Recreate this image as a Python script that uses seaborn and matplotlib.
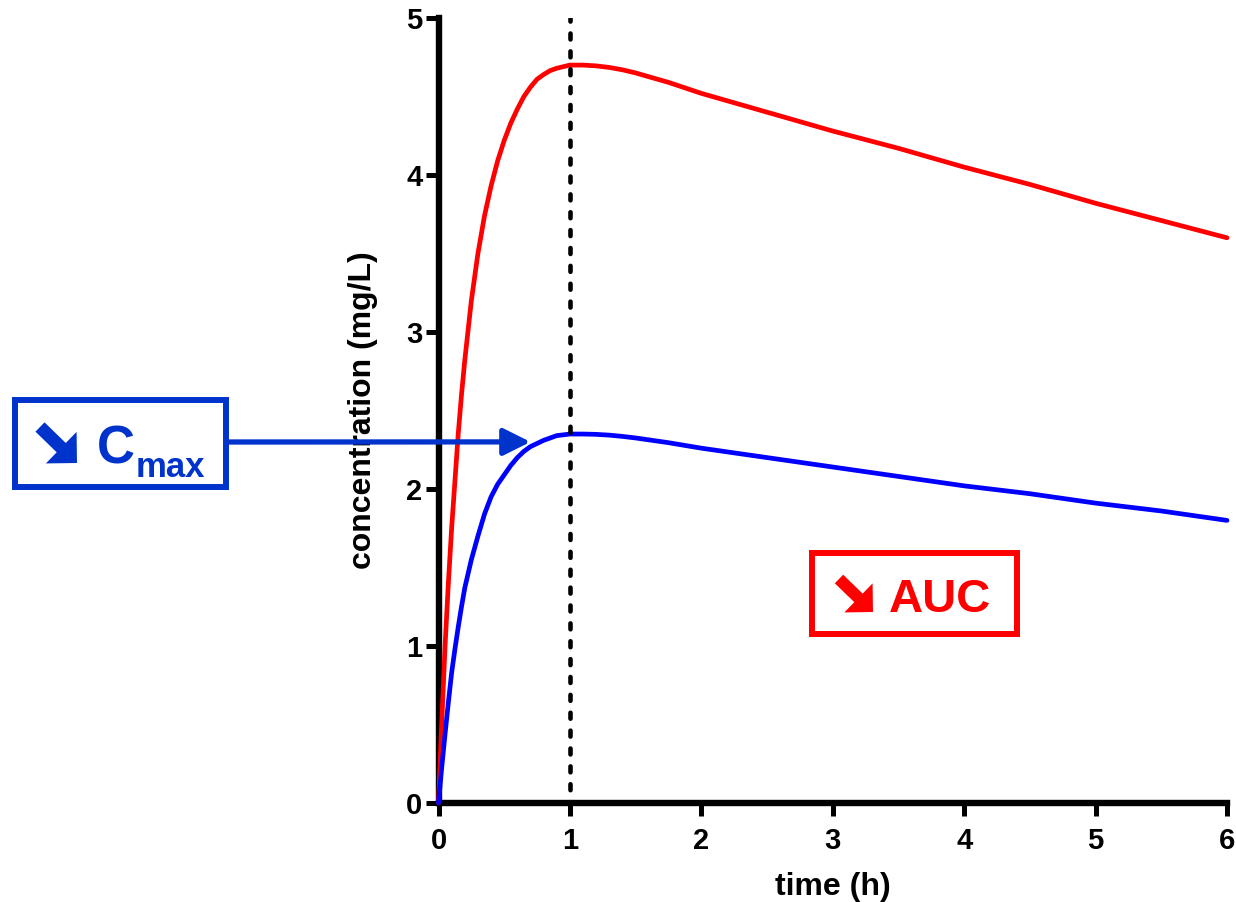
import matplotlib
matplotlib.use("Agg")
import matplotlib.pyplot as plt
import seaborn as sns
import pandas as pd
from matplotlib.patches import Rectangle, FancyArrow

# values
time_h = [0, 0.025, 0.05, 0.075, 0.1, 0.125, 0.15, 0.175, 0.2, 0.25, 0.3, 0.35,
          0.4, 0.45, 0.5, 0.55, 0.6, 0.65, 0.7, 0.75, 0.8, 0.85, 0.9, 0.95, 1.0,
          1.05, 1.1, 1.2, 1.3, 1.4, 1.5, 1.75, 2, 2.5, 3, 3.5, 4, 4.5, 5, 5.5, 6]
conc_high = [0, 0.52, 1.00, 1.40, 1.75, 2.05, 2.35, 2.60, 2.82, 3.20, 3.50, 3.74,
             3.93, 4.09, 4.22, 4.33, 4.42, 4.50, 4.56, 4.61, 4.64, 4.665, 4.68, 4.69, 4.70,
             4.70, 4.70, 4.695, 4.685, 4.67, 4.65, 4.59, 4.52, 4.40, 4.28, 4.17, 4.05,
             3.94, 3.82, 3.71, 3.60]
conc_low = [0, 0.23, 0.44, 0.64, 0.83, 0.98, 1.12, 1.25, 1.37, 1.55, 1.70, 1.84,
            1.95, 2.03, 2.09, 2.15, 2.20, 2.24, 2.27, 2.29, 2.31, 2.325, 2.34, 2.345, 2.35,
            2.35, 2.35, 2.348, 2.343, 2.335, 2.325, 2.295, 2.26, 2.20, 2.14, 2.08, 2.02,
            1.97, 1.91, 1.86, 1.80]
t_max = 1.0
cmax_arrow_tip = (0.70, 2.30)
x_ticks = [0, 1, 2, 3, 4, 5, 6]
y_ticks = [0, 1, 2, 3, 4, 5]

BLUE_NOTE = "#0033CC"
RED = "#FF0000"
FONTS = ["Liberation Sans", "DejaVu Sans"]
W, H = 1236, 902

sns.set_style("ticks")
plt.rcParams["font.family"] = FONTS
plt.rcParams["font.weight"] = "bold"
plt.rcParams["text.color"] = "black"
plt.rcParams["axes.labelcolor"] = "black"
plt.rcParams["xtick.color"] = "black"
plt.rcParams["ytick.color"] = "black"
plt.rcParams["axes.edgecolor"] = "black"

df = pd.DataFrame({"time": time_h * 2,
                   "conc": conc_high + conc_low,
                   "series": ["high"] * len(time_h) + ["low"] * len(time_h)})

fig = plt.figure(figsize=(W / 100, H / 100), dpi=100)
ax = fig.add_axes([438.5 / W, 1 - 803 / H, (1227 - 438.5) / W, (803 - 18) / H])

sns.lineplot(data=df, x="time", y="conc", hue="series",
             palette={"high": RED, "low": "#0000FF"},
             lw=3.4, legend=False, ax=ax, clip_on=False, zorder=3)

ax.axvline(t_max, color="black", lw=3.3, ls=(1.0, (1.3, 2.6)),
           dash_capstyle="round", zorder=4)

ax.set_xlim(0, 6)
ax.set_ylim(0, 5)
ax.set_xticks(x_ticks)
ax.set_yticks(y_ticks)
ax.set_xlabel("time (h)", fontsize=23, fontweight="bold", labelpad=12)
ax.set_ylabel("concentration (mg/L)", fontsize=23, fontweight="bold", labelpad=20)
sns.despine(ax=ax)
for side in ["left", "bottom"]:
    ax.spines[side].set_linewidth(4.6)
ax.tick_params(axis="both", width=3.6, length=9.5, labelsize=21)
ax.tick_params(axis="x", pad=8)
ax.tick_params(axis="y", pad=2)
for lab in ax.get_xticklabels() + ax.get_yticklabels():
    lab.set_fontweight("bold")


def block_arrow(x0, y0, x1, y1, color, scale=1.0):
    # heavy south-east arrow glyph, drawn in pixel units
    tr = fig.dpi_scale_trans
    fig.add_artist(FancyArrow(x0 / 100, (H - y0) / 100, (x1 - x0) / 100, (y0 - y1) / 100,
                              width=13 * scale / 100, head_width=44 * scale / 100,
                              head_length=22 * scale / 100, length_includes_head=True,
                              color=color, lw=0, transform=tr))


# Cmax box + arrow
fig.add_artist(Rectangle((15 / W, 1 - 487.5 / H), 211 / W, 87.5 / H,
                         transform=fig.transFigure, fill=False,
                         ec=BLUE_NOTE, lw=4.3))
block_arrow(40, 427, 77, 463, BLUE_NOTE)
fig.text(97 / W, 1 - 464 / H, "C", color=BLUE_NOTE, fontsize=38,
         fontweight="bold", va="baseline", ha="left")
fig.text(136 / W, 1 - 477 / H, "max", color=BLUE_NOTE, fontsize=25,
         fontweight="bold", va="baseline", ha="left")
ax.annotate("", xy=cmax_arrow_tip, xycoords="data",
            xytext=(226 / W, 1 - 442 / H), textcoords="figure fraction",
            arrowprops=dict(arrowstyle="-|>", color=BLUE_NOTE, lw=3.8,
                            mutation_scale=41, shrinkA=0, shrinkB=0),
            zorder=5, annotation_clip=False)

# AUC box
fig.add_artist(Rectangle((812 / W, 1 - 634 / H), 205 / W, 81 / H,
                         transform=fig.transFigure, fill=False,
                         ec=RED, lw=4.3))
block_arrow(839, 579, 873, 612, RED, scale=0.92)
fig.text(889 / W, 1 - 612 / H, "AUC", color=RED, fontsize=34,
         fontweight="bold", va="baseline", ha="left")

fig.savefig("out.png", dpi=100)
plt.close(fig)
